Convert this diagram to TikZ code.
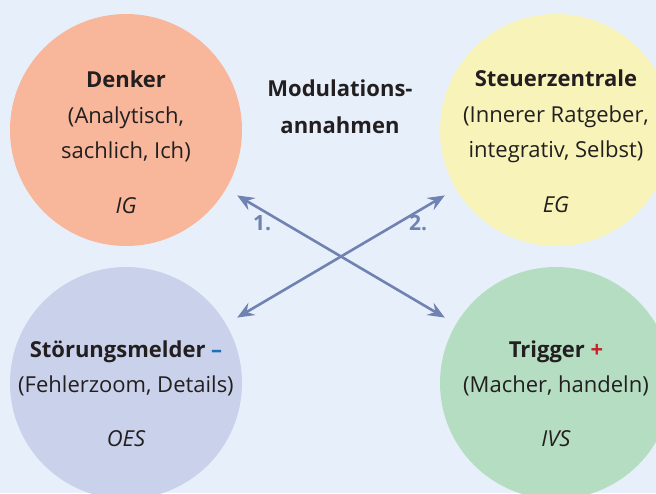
\documentclass[tikz,border=0pt]{standalone}
\usepackage{fontspec}
\setmainfont{Open Sans}
\usetikzlibrary{arrows.meta}

\definecolor{bgblue}{RGB}{231,240,250}
\definecolor{denkerfill}{RGB}{248,183,155}
\definecolor{steuerfill}{RGB}{248,244,185}
\definecolor{stoerfill}{RGB}{202,209,234}
\definecolor{triggerfill}{RGB}{180,221,194}
\definecolor{arrowblue}{RGB}{112,130,178}
\definecolor{textgray}{RGB}{35,31,32}
\definecolor{minusblue}{RGB}{30,110,185}
\definecolor{plusred}{RGB}{200,32,40}

\tikzset{
zone/.style={circle,draw=none,minimum size=232pt,inner sep=0pt,outer sep=0pt},
head/.style={anchor=base,text=textgray,font=\fontsize{22}{26}\selectfont\bfseries},
desc/.style={anchor=base,text=textgray,font=\fontsize{22}{26}\selectfont},
abbrev/.style={anchor=base,text=textgray,font=\fontsize{22}{26}\selectfont\itshape},
modarrow/.style={draw=arrowblue,line width=2.6pt,
  {Stealth[length=17pt,width=14pt,inset=6pt]}-{Stealth[length=17pt,width=14pt,inset=6pt]},
  shorten <=13pt,shorten >=13pt},
steplabel/.style={text=arrowblue,font=\fontsize{21}{24}\selectfont\bfseries}}

\begin{document}
\begin{tikzpicture}[x=1pt,y=-1pt]
  \useasboundingbox (0,0) rectangle (656,493);
  \clip (0,0) rectangle (656,493);
  \fill[bgblue] (0,0) rectangle (656,493);

  % the four circles
  \node[zone,fill=denkerfill] (denker) at (126,130) {};
  \node[zone,fill=steuerfill] (steuer) at (556,130) {};
  \node[zone,fill=stoerfill] (stoer) at (126,383) {};
  \node[zone,fill=triggerfill] (trigger) at (556,383) {};

  % texts
  \node[head] (denkerhead) at ([yshift=43pt]denker.center) {Denker};
  \node[desc] (denkerdesc1) at ([yshift=7pt]denker.center) {(Analytisch,};
  \node[desc] (denkerdesc2) at ([yshift=-28pt]denker.center) {sachlich, Ich)};
  \node[abbrev] (denkerabbrev) at ([yshift=-83pt]denker.center) {IG};

  \node[head] (steuerhead) at ([yshift=44pt]steuer.center) {Steuerzentrale};
  \node[desc] (steuerdesc1) at ([yshift=8pt]steuer.center) {(Innerer Ratgeber,};
  \node[desc] (steuerdesc2) at ([yshift=-27pt]steuer.center) {integrativ, Selbst)};
  \node[abbrev] (steuerabbrev) at ([yshift=-82pt]steuer.center) {EG};

  \node[head] (stoerhead) at ([yshift=26pt]stoer.center) {Störungsmelder \textcolor{minusblue}{–}};
  \node[desc] (stoerdesc) at ([yshift=-9pt]stoer.center) {(Fehlerzoom, Details)};
  \node[abbrev] (stoerabbrev) at ([yshift=-63pt]stoer.center) {OES};

  \node[head] (triggerhead) at ([yshift=26pt]trigger.center) {Trigger \textcolor{plusred}{+}};
  \node[desc] (triggerdesc) at ([yshift=-9pt]trigger.center) {(Macher, handeln)};
  \node[abbrev] (triggerabbrev) at ([yshift=-63pt]trigger.center) {IVS};

  \node[head] (modtitle1) at (340,96) {Modulations-};
  \node[head] (modtitle2) at (340,133) {annahmen};

  % arrows
  \draw[modarrow] (denker) -- (trigger);
  \draw[modarrow] (stoer) -- (steuer);
  \node[steplabel] (step1) at (262,223) {1.};
  \node[steplabel] (step2) at (418,223) {2.};
\end{tikzpicture}
\end{document}
